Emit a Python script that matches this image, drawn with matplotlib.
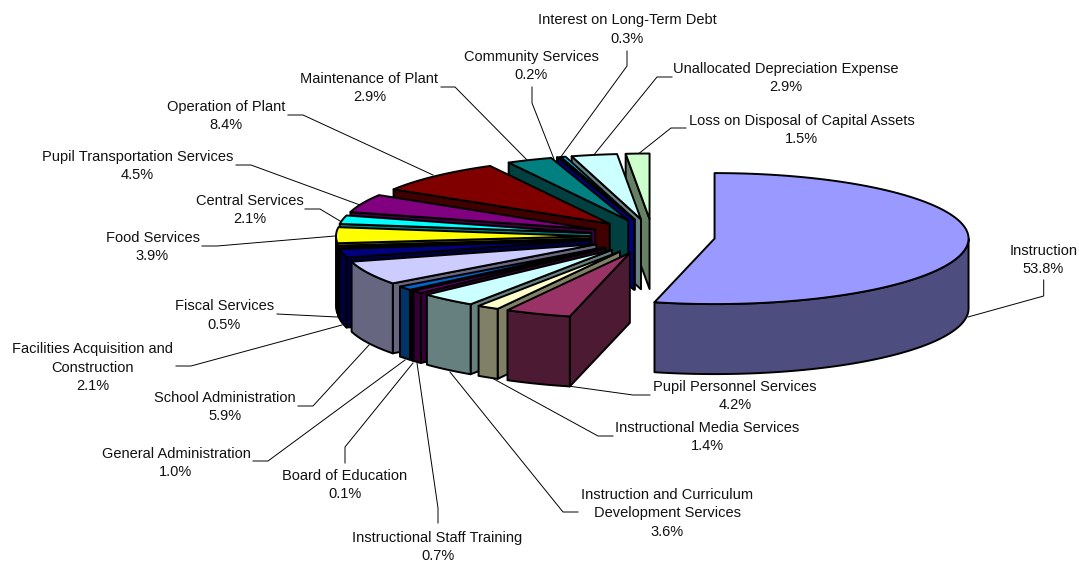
import numpy as np
import matplotlib
matplotlib.use('Agg')
import matplotlib.pyplot as plt
from matplotlib.patches import Polygon
from matplotlib.colors import to_rgb

plt.rcParams['font.family'] = ['Liberation Sans', 'DejaVu Sans']

# Slices, clockwise starting from straight up
names = ['Instruction', 'Pupil Personnel Services', 'Instructional Media Services',
         'Instruction and Curriculum\nDevelopment Services', 'Instructional Staff Training',
         'Board of Education', 'General Administration', 'School Administration',
         'Facilities Acquisition and\nConstruction', 'Fiscal Services', 'Food Services',
         'Central Services', 'Pupil Transportation Services', 'Operation of Plant',
         'Maintenance of Plant', 'Community Services', 'Interest on Long-Term Debt',
         'Unallocated Depreciation Expense', 'Loss on Disposal of Capital Assets']
values = [53.8, 4.2, 1.4, 3.6, 0.7, 0.1, 1.0, 5.9, 2.1, 0.5, 3.9, 2.1, 4.5, 8.4, 2.9, 0.2, 0.3, 2.9, 1.5]
colors = ['#9999FF', '#993366', '#FFFFCC', '#CCFFFF', '#660066', '#FF8080', '#0066CC', '#CCCCFF',
          '#000080', '#FF00FF', '#FFFF00', '#00FFFF', '#800080', '#800000', '#008080', '#0000FF',
          '#00CCFF', '#CCFFFF', '#CCFFCC']

# Label centres in pixels
label_pos = [(1043.5, 260), (735, 396), (707.5, 437), (667, 513.5), (437.5, 547), (345, 485),
             (176, 463), (225, 407), (92.5, 367.5), (224.5, 315.5), (152.5, 247), (249.5, 210),
             (137.5, 166), (226, 116), (369.5, 88), (531, 66), (627, 29.5), (786, 78), (801.5, 130)]

# Leader lines in pixels
leaders = [[(1043.7, 280), (1043.7, 296), (968, 317)],
           [(650, 395), (633, 395), (568, 386)],
           [(613, 436), (598, 436), (492, 378)],
           [(578, 512), (563, 512), (450, 372)],
           [(438, 523), (438, 508), (417, 363)],
           [(345, 463), (345, 447), (413, 363)],
           [(253, 461), (268, 461), (405, 360)],
           [(298, 406), (313, 406), (369, 345)],
           [(176, 366), (191, 366), (342, 325)],
           [(277, 314), (337, 317)],
           [(202, 246), (217, 246), (335, 236)],
           [(305, 209), (320, 209), (340, 221)],
           [(236, 165), (251, 165), (360, 205)],
           [(288, 115), (303, 115), (433, 175)],
           [(441, 87), (455, 87), (528, 161)],
           [(532, 87), (532, 103), (554, 159)],
           [(627, 51), (627, 66), (560, 158)],
           [(672, 77), (657, 77), (593, 156)],
           [(686, 128), (671, 128), (637, 155)]]

# Pie geometry in pixels
cx, cy = 652.5, 236.5
rx, ry = 254, 65.5
depth = 70
explode_x = 62.5
explode_y = 17.5
edge_lw = 1.4

fig = plt.figure(figsize=(10.79, 5.63), dpi=100)
ax = fig.add_axes([0, 0, 1, 1])
ax.set_xlim(0, 1079)
ax.set_ylim(563, 0)
ax.axis('off')

for line in leaders:
    xs, ys = zip(*line)
    ax.plot(xs, ys, color='black', lw=0.7, zorder=1, solid_joinstyle='miter')

edges = np.radians(np.concatenate([[0], np.cumsum(values)]) * 360 / np.sum(values))
mids = (edges[:-1] + edges[1:]) / 2


def arc(x0, y0, a, b):
    t = np.linspace(a, b, max(int((b - a) * 60), 2))
    return np.column_stack([x0 + rx * np.sin(t), y0 - ry * np.cos(t)])


def face(pts, color, z):
    ax.add_patch(Polygon(pts, closed=True, facecolor=color, edgecolor='black', lw=edge_lw,
                         joinstyle='round', zorder=z))


# back slices first so the front ones cover them
order = sorted(range(len(values)), key=lambda i: -np.cos(mids[i]))
z = 2
for i in order:
    a, b = edges[i], edges[i + 1]
    x0 = cx + explode_x * np.sin(mids[i])
    y0 = cy - explode_y * np.cos(mids[i])
    side = tuple(c * 0.5 for c in to_rgb(colors[i]))

    # cut faces that look towards the viewer
    for ang, visible in ((a, np.sin(a) < -1e-6), (b, np.sin(b) > 1e-6)):
        if visible:
            p = arc(x0, y0, ang, ang + 1e-3)[0]
            face([(x0, y0), p, (p[0], p[1] + depth), (x0, y0 + depth)], side, z)
            z += 1

    # rim, front half only
    lo, hi = max(a, np.pi / 2), min(b, 3 * np.pi / 2)
    if hi > lo:
        top = arc(x0, y0, lo, hi)
        bottom = top[::-1] + [0, depth]
        face(np.vstack([top, bottom]), side, z)
        z += 1

    face(np.vstack([[(x0, y0)], arc(x0, y0, a, b)]), colors[i], z)
    z += 1

for name, val, pos in zip(names, values, label_pos):
    ax.text(pos[0], pos[1], f'{name}\n{val:.1f}%', ha='center', va='center', fontsize=10.5,
            color='#111111', linespacing=1.38, zorder=500)

fig.savefig('out.png', dpi=100)
